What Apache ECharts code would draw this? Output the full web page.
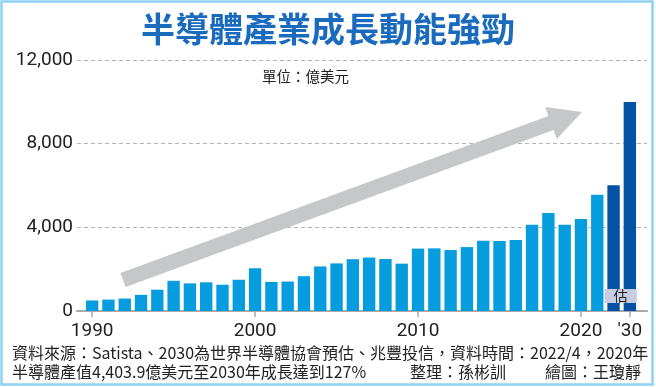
<!DOCTYPE html>
<html>
<head>
<meta charset="utf-8">
<script src="https://cdn.jsdelivr.net/npm/echarts@6/dist/echarts.min.js"></script>
<style>
html,body{margin:0;padding:0;background:#fff;}
#c{width:656px;height:387px;}
</style>
</head>
<body>
<div id="c"></div>
<script>
// ---- data ----
const categories = ['1990','1991','1992','1993','1994','1995','1996','1997','1998','1999',
  '2000','2001','2002','2003','2004','2005','2006','2007','2008','2009',
  '2010','2011','2012','2013','2014','2015','2016','2017','2018','2019',
  '2020','2021','2022','2030'];
const values = [505,546,596,773,1019,1444,1320,1372,1256,1494,
  2044,1390,1407,1664,2130,2275,2477,2556,2486,2263,
  2983,2995,2916,3056,3358,3352,3389,4122,4688,4123,
  4404,5559,6015,9997];
const estimateYears = ['2022','2030'];
const labeledYears = ['1990','2000','2010','2020','2030'];
const tickLabels = ['1990','2000','2010','2020',"'30"];
const yTicks = [0,4000,8000,12000];

const CJK = '"Noto Sans CJK TC","Noto Sans CJK SC",sans-serif';
const NUM = 'Roboto,"Noto Sans",sans-serif';
const LIGHT = '#069ddf';
const DARK = '#0452a4';

const chart = echarts.init(document.getElementById('c'), null, {renderer:'canvas'});
const showIdx = (i) => labeledYears.indexOf(categories[i]) >= 0;

const option = {
  animation: false,
  backgroundColor: '#fff',
  grid: [
    {left: 84, right: 18, top: 60, bottom: 76},
    {left: 77, right: 9, top: 60, bottom: 76}
  ],
  xAxis: [
    {
      type: 'category', gridIndex: 0, data: categories,
      axisLine: {show: false},
      axisTick: {show: true, alignWithLabel: true, length: 6, interval: showIdx,
        lineStyle: {color: '#aaa', width: 1.5}},
      axisLabel: {interval: showIdx, margin: 11, fontSize: 19, color: '#222', fontFamily: NUM,
        formatter: (v) => tickLabels[labeledYears.indexOf(v)]}
    },
    {
      type: 'value', gridIndex: 1, min: 0, max: 1,
      axisLine: {show: true, onZero: false, lineStyle: {color: '#aaa', width: 2}},
      axisTick: {show: false}, axisLabel: {show: false}, splitLine: {show: false}
    }
  ],
  yAxis: [
    {type: 'value', gridIndex: 0, min: 0, max: 12000, interval: 4000, show: false},
    {
      type: 'value', gridIndex: 1, min: 0, max: 12000, interval: 4000,
      axisLine: {show: false}, axisTick: {show: false},
      axisLabel: {margin: 4, fontSize: 19, color: '#222', fontFamily: NUM,
        formatter: (v) => v.toLocaleString('en-US')},
      splitLine: {show: true, lineStyle: {color: '#b5b5b5', type: [4, 3], width: 1}}
    }
  ],
  series: [{
    type: 'bar', xAxisIndex: 0, yAxisIndex: 0,
    barCategoryGap: '24%',
    data: values.map((v, i) => ({
      value: v,
      itemStyle: {color: estimateYears.indexOf(categories[i]) >= 0 ? DARK : LIGHT}
    }))
  }],
  graphic: []
};
chart.setOption(option);

// annotation positions computed from the axes
const p22 = chart.convertToPixel({xAxisIndex: 0, yAxisIndex: 0}, ['2022', 1050]);
const p30 = chart.convertToPixel({xAxisIndex: 0, yAxisIndex: 0}, ['2030', 380]);
const bx = p22[0] - 9, bw = p30[0] + 7 - bx;

chart.setOption({graphic: [
  {type: 'rect', shape: {x: 1.5, y: 1.5, width: 651, height: 383},
    style: {fill: 'none', stroke: '#8fd2f2', lineWidth: 2.5}, z: 100},
  {type: 'text', left: 'center', top: 12,
    style: {text: '半導體產業成長動能強勁', font: 'bold 34px ' + CJK, fill: '#1a6bbd'}},
  {type: 'text', left: 262, top: 69,
    style: {text: '單位：億美元', font: '14.5px ' + CJK, fill: '#222'}},
  {type: 'polygon', z: 50,
    shape: {points: [[120.4,273],[548.4,116],[545.2,107],[582,112],[556.8,139],[553.6,130],[125.6,287]]},
    style: {fill: '#c6c7c9'}},
  {type: 'rect', z: 60, shape: {x: bx, y: p22[1], width: bw, height: p30[1] - p22[1]},
    style: {fill: '#c8cce0'}},
  {type: 'text', z: 61, x: bx + bw / 2, y: (p22[1] + p30[1]) / 2,
    style: {text: '估', font: '14px ' + CJK, fill: '#222', textAlign: 'center', textVerticalAlign: 'middle'}},
  {type: 'text', left: 12, top: 345,
    style: {text: '資料來源：Satista、2030為世界半導體協會預估、兆豐投信，資料時間：2022/4，2020年', font: '16px ' + CJK, fill: '#222'}},
  {type: 'text', left: 12, top: 364,
    style: {text: '半導體產值4,403.9億美元至2030年成長達到127%', font: '16px ' + CJK, fill: '#222'}},
  {type: 'text', left: 410, top: 364,
    style: {text: '整理：孫彬訓', font: '16px ' + CJK, fill: '#222'}},
  {type: 'text', left: 545, top: 364,
    style: {text: '繪圖：王瓊靜', font: '16px ' + CJK, fill: '#222'}}
]});
</script>
</body>
</html>
